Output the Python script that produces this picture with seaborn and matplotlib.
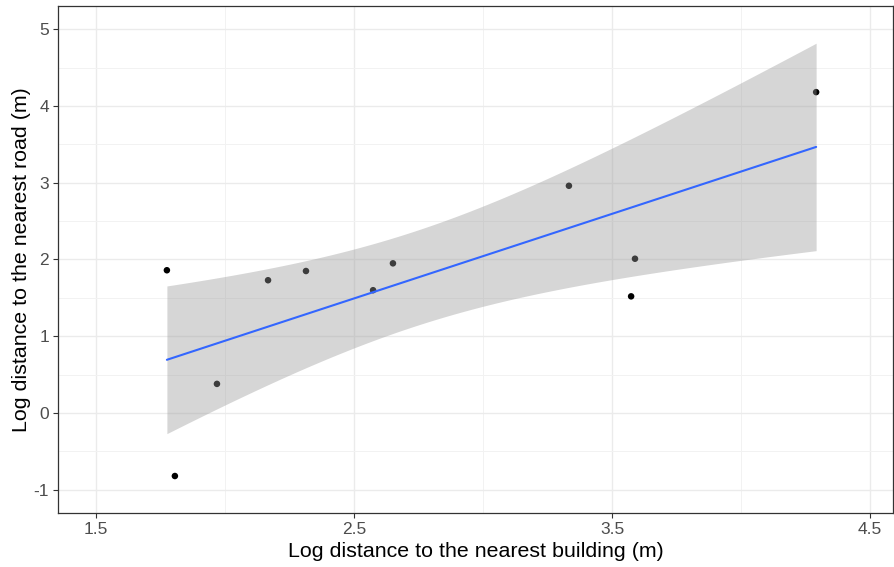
import numpy as np
import pandas as pd
import seaborn as sns
import matplotlib.pyplot as plt
from matplotlib.ticker import MultipleLocator

# log distances
building = [1.775, 1.806, 1.969, 2.167, 2.314, 2.574, 2.651, 3.333, 3.574, 3.589, 4.291]
road = [1.86, -0.82, 0.38, 1.73, 1.85, 1.60, 1.95, 2.96, 1.52, 2.01, 4.18]

x_ticks = [1.5, 2.5, 3.5, 4.5]
y_ticks = [-1, 0, 1, 2, 3, 4, 5]


def lm_band(x, y, grid):
    # analytic 95% confidence band for a simple linear fit (like geom_smooth)
    n = len(x)
    b, a = np.polyfit(x, y, 1)
    resid = y - (a + b * x)
    s = np.sqrt(np.sum(resid ** 2) / (n - 2))
    sxx = np.sum((x - x.mean()) ** 2)
    t = 2.262157  # t quantile 0.975, df = 9
    se = s * np.sqrt(1 / n + (grid - x.mean()) ** 2 / sxx)
    fit = a + b * grid
    return fit, fit - t * se, fit + t * se


df = pd.DataFrame({"building": building, "road": road})

sns.set_theme(style="whitegrid")
plt.rcParams['font.family'] = ['Liberation Sans', 'DejaVu Sans']

fig = plt.figure(figsize=(8.95, 5.67), dpi=100)
ax = fig.add_axes([0.0648, 0.0952, 0.933, 0.894])

sns.scatterplot(data=df, x="building", y="road", ax=ax, color="black",
                s=22, edgecolor="none", zorder=2)

grid = np.linspace(df["building"].min(), df["building"].max(), 80)
fit, lo, hi = lm_band(df["building"].values, df["road"].values, grid)
ax.fill_between(grid, lo, hi, color="#999999", alpha=0.4, linewidth=0, zorder=3)
sns.lineplot(x=grid, y=fit, ax=ax, color="#3366FF", linewidth=1.5, zorder=4)

ax.set_xlim(1.353, 4.589)
ax.set_ylim(-1.302, 5.30)
ax.set_xticks(x_ticks)
ax.set_yticks(y_ticks)
ax.set_xticklabels([str(v) for v in x_ticks])
ax.set_yticklabels([str(v) for v in y_ticks])
ax.xaxis.set_minor_locator(MultipleLocator(0.5))
ax.yaxis.set_minor_locator(MultipleLocator(0.5))

ax.set_facecolor("white")
ax.grid(which="major", color="#EBEBEB", linewidth=1.0, zorder=0)
ax.grid(which="minor", color="#F2F2F2", linewidth=0.7, zorder=0)
ax.set_axisbelow(True)
for sp in ax.spines.values():
    sp.set_color("#333333")
    sp.set_linewidth(0.9)

ax.tick_params(axis="both", which="major", length=3.8, width=0.8, color="#333333",
               labelsize=12.5, labelcolor="#4D4D4D", pad=2.5, bottom=True, left=True)
ax.tick_params(which="minor", length=0)

ax.set_xlabel("Log distance to the nearest building (m)", fontsize=15.4, color="black", labelpad=4)
ax.set_ylabel("Log distance to the nearest road (m)", fontsize=15.4, color="black", labelpad=2)

fig.savefig("out.png", dpi=100)
